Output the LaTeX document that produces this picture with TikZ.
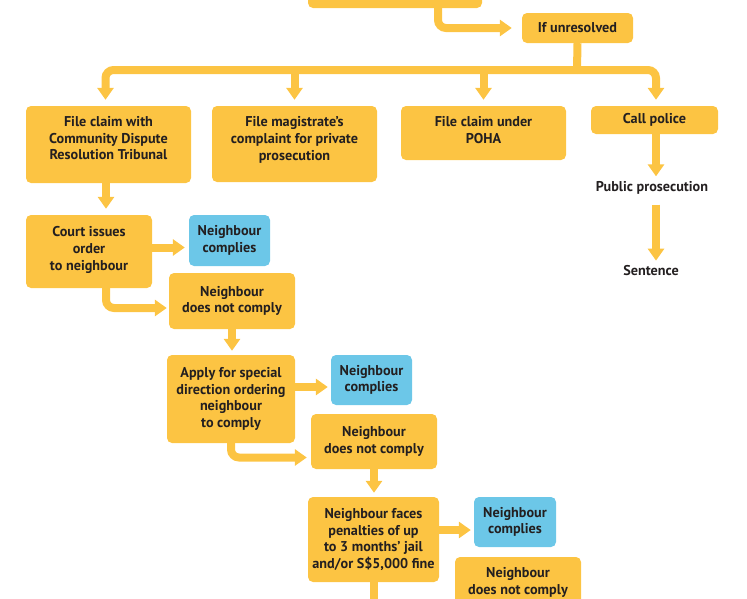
\documentclass[tikz,border=0pt]{standalone}
\usepackage{fontspec}
\setmainfont{PT Sans}
\usetikzlibrary{positioning,arrows.meta}

\definecolor{flowgold}{HTML}{FCC443}
\definecolor{flowblue}{HTML}{6CC7E8}
\definecolor{flowtext}{HTML}{231F20}

\begin{document}
\begin{tikzpicture}[x=1pt, y=-1pt,
        stepbox/.style={rectangle, rounded corners=5pt, fill=flowgold, text=flowtext, align=center, inner sep=0pt, font=\bfseries\fontsize{14.2}{16.7}\selectfont},
        okbox/.style={stepbox, fill=flowblue},
        lift/.style={text depth=#1},
        plaintext/.style={text=flowtext, inner sep=0pt, font=\bfseries\fontsize{14.2}{16.7}\selectfont},
        flow/.style={draw=flowgold, line width=8pt, rounded corners=8pt, -{Triangle[width=16pt,length=12pt]}},
        link/.style={draw=flowgold, line width=8pt, rounded corners=8pt}]
        \useasboundingbox (0,0) rectangle (747,598);
        \clip (0,0) rectangle (747,598);

        % first steps
        \node[stepbox, minimum width=174pt, minimum height=28pt] (top) at (395,-6) {};
        \node[stepbox, minimum width=111pt, minimum height=30pt] (unres) at (577.5,28) {If unresolved};
        \coordinate (split) at (577,70);

        \node[stepbox, lift=13pt, minimum width=165pt, minimum height=77pt] (cdrt) at (108.5,144.5) {File claim with\\Community Dispute\\Resolution Tribunal};
        \node[stepbox, lift=11pt, minimum width=165pt, minimum height=76pt] (magis) at (294.5,144) {File magistrate's\\complaint for private\\prosecution};
        \node[stepbox, lift=6pt, minimum width=165pt, minimum height=54pt] (poha) at (483.5,133) {File claim under\\POHA};
        \node[stepbox, minimum width=127pt, minimum height=28pt] (police) at (654.5,120) {Call police};

        \node[plaintext] (pubpros) at (652,188) {Public prosecution};
        \node[plaintext] (sentence) at (651,271) {Sentence};

        % tribunal branch
        \node[stepbox, lift=6pt, minimum width=126pt, minimum height=73pt] (court) at (89,251.5) {Court issues\\order\\to neighbour};
        \node[okbox, minimum width=81pt, minimum height=51pt] (ok1) at (229.5,240.5) {Neighbour\\complies};
        \node[stepbox, minimum width=126pt, minimum height=56pt] (no1) at (232,301) {Neighbour\\does not comply};

        \node[stepbox, minimum width=128pt, minimum height=88pt] (apply) at (231,399) {Apply for special\\direction ordering\\neighbour\\to comply};
        \node[okbox, minimum width=81pt, minimum height=50pt] (ok2) at (371.5,380) {Neighbour\\complies};
        \node[stepbox, minimum width=126pt, minimum height=55pt] (no2) at (374,441.5) {Neighbour\\does not comply};

        \node[stepbox, minimum width=131pt, minimum height=85pt] (faces) at (373.5,539.5) {Neighbour faces\\penalties of up\\to 3 months' jail\\and/or S\$5,000 fine};
        \node[okbox, minimum width=82pt, minimum height=50pt] (ok3) at (515,522) {Neighbour\\complies};
        \node[stepbox, lift=7pt, minimum width=126pt, minimum height=55pt] (no3) at (518,584.5) {Neighbour\\does not comply};
        \coordinate (cont) at (374,615);

        % connectors
        \draw[flow, shorten >=10pt] ([xshift=43pt]top.south) |- (unres.west);
        \draw[link] (unres.south) -- (split);
        \draw[flow, shorten >=6pt] (split) -| ([xshift=-3pt]cdrt.north);
        \draw[flow, shorten >=6pt] (split) -| ([xshift=1.5pt]police.north);
        \draw[flow, shorten >=6pt] (magis.north |- split) -- (magis.north);
        \draw[flow, shorten >=6pt] (poha.north |- split) -- (poha.north);

        \draw[flow, shorten >=5pt] ([xshift=1.5pt]police.south) -- ([xshift=4pt]pubpros.north);
        \draw[flow, shorten <=10pt, shorten >=5pt] ([xshift=4pt]pubpros.south) -- ([xshift=5pt]sentence.north);

        \draw[flow, shorten >=6pt] ([xshift=-2.5pt]cdrt.south) -- ([xshift=-2.5pt]cdrt.south |- court.north);
        \draw[flow, shorten >=4pt] ([yshift=4pt]court.east) -- ([yshift=4pt]court.east -| ok1.west);
        \draw[flow, shorten >=2pt] ([xshift=17pt]court.south) |- ([yshift=-7pt]no1.west);

        \draw[flow, shorten >=4pt] (no1.south) -- (no1.south |- apply.north);
        \draw[flow, shorten >=3pt] ([yshift=12pt]apply.east) -- ([yshift=12pt]apply.east -| ok2.west);
        \draw[flow, shorten >=4pt] (apply.south) |- ([yshift=-16pt]no2.west);

        \draw[flow, shorten >=4pt] (no2.south) -- (no2.south |- faces.north);
        \draw[flow, shorten >=3pt] ([yshift=9.5pt]faces.east) -- ([yshift=9.5pt]faces.east -| ok3.west);
        \draw[link] (faces.south) -- (faces.south |- cont);
\end{tikzpicture}
\end{document}
